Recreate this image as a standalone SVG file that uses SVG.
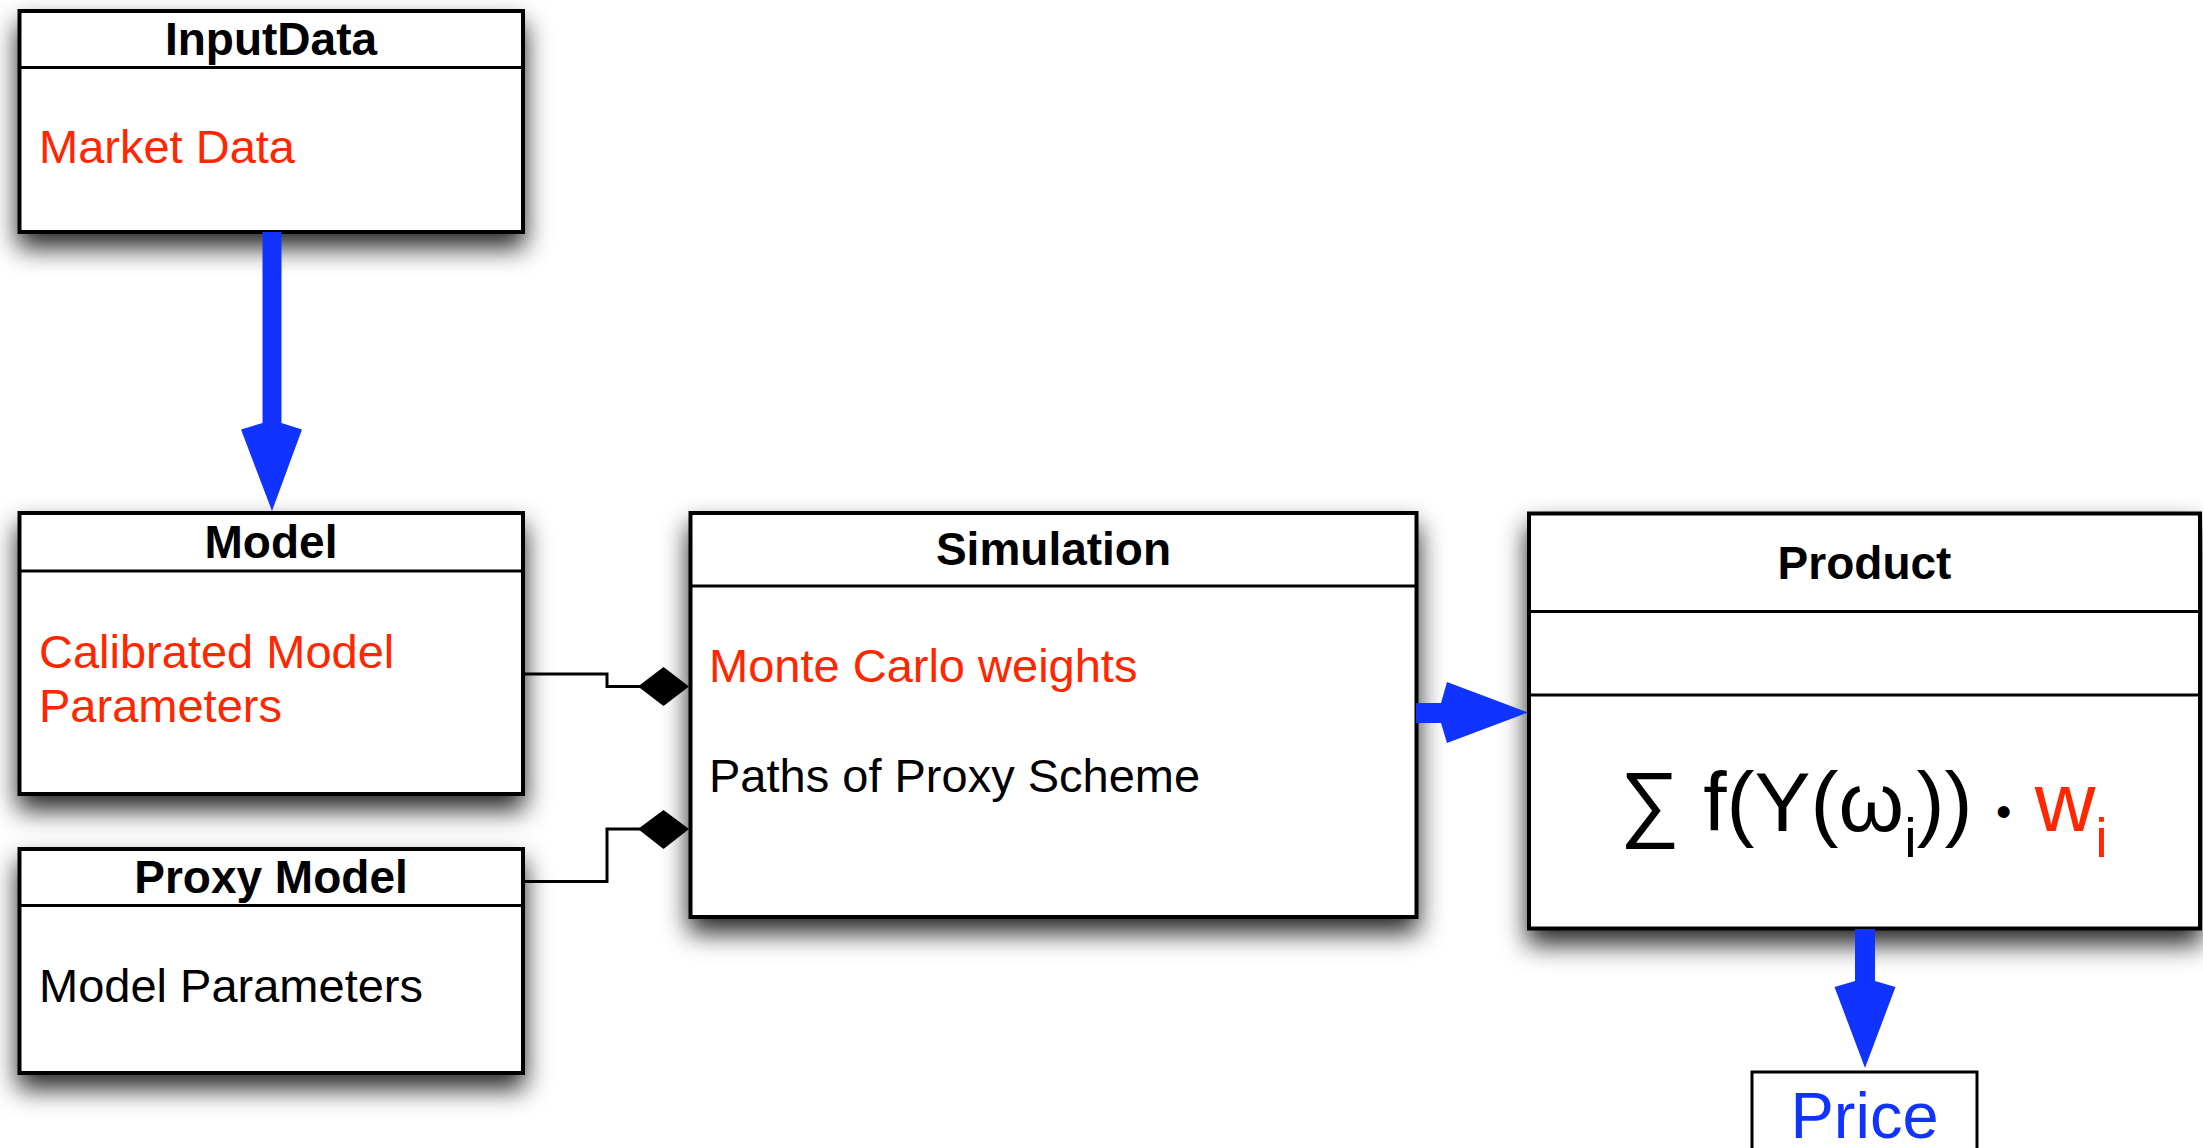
<svg xmlns="http://www.w3.org/2000/svg" width="2203" height="1148" viewBox="0 0 2203 1148">
  <defs>
    <filter id="shadow" x="-10%" y="-20%" width="120%" height="150%">
      <feDropShadow dx="0" dy="14" stdDeviation="13" flood-color="#000" flood-opacity="0.85"/>
    </filter>
    <style>
      .frame { fill: #fff; stroke: #000; stroke-width: 4; filter: url(#shadow); }
      .plain { fill: #fff; stroke: #000; stroke-width: 3; }
      .div { stroke: #000; stroke-width: 3; }
      text { font-family: "Liberation Sans", Arial, Helvetica, sans-serif; fill: #000; }
      .title { font-weight: bold; font-size: 46px; text-anchor: middle; }
      .body { font-size: 47px; }
      .red { fill: #ff2600; }
      .blue { fill: #1133ff; }
      .link { fill: none; stroke: #000; stroke-width: 3; }
      .diamond { fill: #000; }
      .flow { fill: #1133ff; }
    </style>
  </defs>

  <rect width="2203" height="1148" fill="#fff"/>

  <!-- class boxes -->
  <g id="inputdata">
    <rect class="frame" x="19.5" y="11" width="503.5" height="221"/>
    <line class="div" x1="19.5" y1="67.5" x2="523" y2="67.5"/>
    <text class="title" x="271" y="55">InputData</text>
    <text class="body red" x="39" y="163">Market Data</text>
  </g>

  <g id="model">
    <rect class="frame" x="19.5" y="513" width="503.5" height="281"/>
    <line class="div" x1="19.5" y1="571" x2="523" y2="571"/>
    <text class="title" x="271" y="558">Model</text>
    <text class="body red" x="39" y="667.5">Calibrated Model</text>
    <text class="body red" x="39" y="722">Parameters</text>
  </g>

  <g id="proxy-model">
    <rect class="frame" x="19.5" y="849" width="503.5" height="224"/>
    <line class="div" x1="19.5" y1="905.5" x2="523" y2="905.5"/>
    <text class="title" x="271" y="893">Proxy Model</text>
    <text class="body" x="39" y="1002">Model Parameters</text>
  </g>

  <g id="simulation">
    <rect class="frame" x="690.5" y="513" width="726" height="404"/>
    <line class="div" x1="690.5" y1="586" x2="1416.5" y2="586"/>
    <text class="title" x="1053.5" y="565">Simulation</text>
    <text class="body red" x="709" y="681.5">Monte Carlo weights</text>
    <text class="body" x="709" y="791.5">Paths of Proxy Scheme</text>
  </g>

  <g id="product">
    <rect class="frame" x="1529" y="513.5" width="671" height="415"/>
    <line class="div" x1="1529" y1="611.5" x2="2200" y2="611.5"/>
    <line class="div" x1="1529" y1="695" x2="2200" y2="695"/>
    <text class="title" x="1864.5" y="578.5">Product</text>
    <!-- payoff sum: subscripts dropped with dy, round bullet as the product dot -->
    <text x="1620" y="830.5" font-size="84">∑ f(Y(ω<tspan font-size="56" dy="26.5">i</tspan><tspan dy="-26.5">)) </tspan><tspan font-size="44" dy="-4">•</tspan><tspan dy="4"> </tspan><tspan class="red">w</tspan><tspan class="red" font-size="56" dy="26.5">i</tspan></text>
  </g>

  <g id="price">
    <rect class="plain" x="1752" y="1072" width="225" height="100"/>
    <text class="blue" x="1864.5" y="1138" font-size="65" text-anchor="middle">Price</text>
  </g>

  <!-- connectors -->
  <g id="connectors">
    <!-- InputData to Model -->
    <path class="flow" d="M262.5 232 H281.5 V423 L302 429.5 L272 511 L241 429.5 L262.5 423 Z"/>
    <!-- Model aggregated into Simulation -->
    <polyline class="link" points="523,674 607,674 607,686.5 640,686.5"/>
    <polygon class="diamond" points="638,686.5 663.5,667 689,686.5 663.5,706"/>
    <!-- Proxy Model aggregated into Simulation -->
    <polyline class="link" points="523,881.5 607,881.5 607,829 640,829"/>
    <polygon class="diamond" points="638,829 663.5,810 689,829 663.5,849"/>
    <!-- Simulation to Product -->
    <path class="flow" d="M1416 703 H1441 L1447 682 L1528 712.5 L1447 743 L1441 723 H1416 Z"/>
    <!-- Product to Price -->
    <path class="flow" d="M1855 929 H1875 V981 L1895.5 987 L1865 1068 L1834.5 987 L1855 981 Z"/>
  </g>
</svg>
